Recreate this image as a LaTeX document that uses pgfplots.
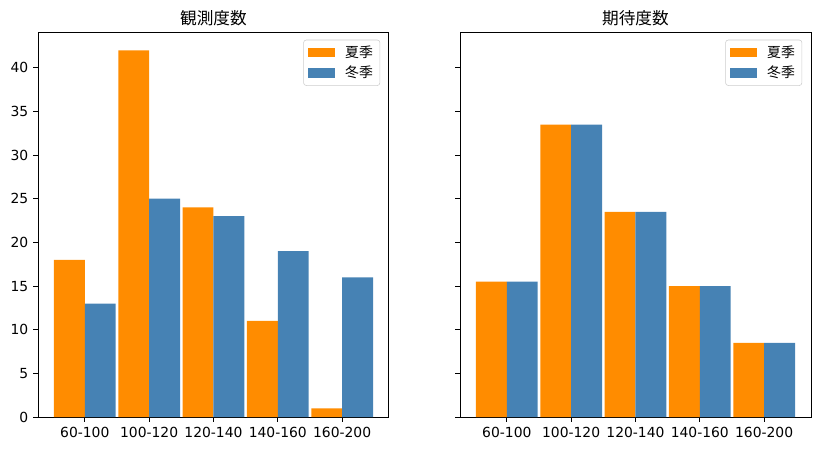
\documentclass[border=0pt]{standalone}
\usepackage{fontspec}
\setmainfont{DejaVu Sans}
\newfontfamily\cjk{Noto Sans CJK JP}
\usepackage{pgfplots}
\pgfplotsset{compat=1.18}
\definecolor{dorange}{RGB}{255,140,0}
\definecolor{sblue}{RGB}{70,130,180}
\pgfplotsset{mystyle/.style={
  scale only axis, width=252.7pt, height=277.2pt,
  xmin=-0.728, xmax=4.728, ymin=0, ymax=44.1,
  xtick={0,1,2,3,4}, xticklabels={60-100,100-120,120-140,140-160,160-200},
  ytick={0,5,...,40},
  tick align=outside, tick pos=left, major tick length=3.5pt,
  tick style={black, line width=0.7pt},
  axis line style={line width=0.7pt},
  tick label style={font=\fontsize{10}{12}\selectfont},
  /pgf/number format/assume math mode=true,
  title style={font=\cjk\fontsize{12}{14}\selectfont, yshift=-5pt},
  legend style={at={(0.975,0.98)}, anchor=north east, draw=black!20, rounded corners=2pt,
    font=\cjk\fontsize{10}{12}\selectfont, inner xsep=3pt, inner ysep=2pt, row sep=1pt,
    cells={anchor=west},
    /tikz/every odd column/.append style={column sep=5pt}},
  legend image code/.code={\fill[##1, sharp corners] (0pt,-3.5pt) rectangle (20pt,3.5pt);},
}}
\begin{document}
\begin{tikzpicture}
\path[use as bounding box] (-27.36pt,-24.48pt) rectangle (563.76pt,300.24pt);
\begin{axis}[mystyle, at={(0pt,0pt)}, anchor=south west, title={観測度数}]
\addplot[ybar, bar width=0.48, bar shift=-0.24, fill=dorange, draw=none]
  coordinates {(0,18) (1,42) (2,24) (3,11) (4,1)};
\addlegendentry{夏季}
\addplot[ybar, bar width=0.48, bar shift=0.24, fill=sblue, draw=none]
  coordinates {(0,13) (1,25) (2,23) (3,19) (4,16)};
\addlegendentry{冬季}
\end{axis}
\begin{axis}[mystyle, at={(303.84pt,0pt)}, anchor=south west, title={期待度数}, yticklabels={}]
\addplot[ybar, bar width=0.48, bar shift=-0.24, fill=dorange, draw=none]
  coordinates {(0,15.5) (1,33.5) (2,23.5) (3,15) (4,8.5)};
\addlegendentry{夏季}
\addplot[ybar, bar width=0.48, bar shift=0.24, fill=sblue, draw=none]
  coordinates {(0,15.5) (1,33.5) (2,23.5) (3,15) (4,8.5)};
\addlegendentry{冬季}
\end{axis}
\end{tikzpicture}
\end{document}
